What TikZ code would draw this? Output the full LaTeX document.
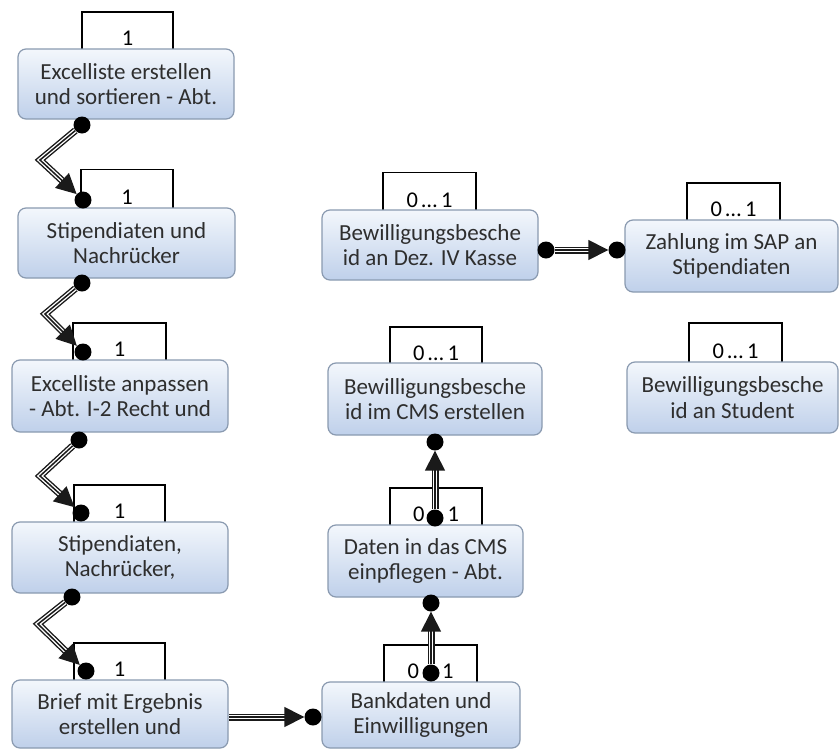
\documentclass[tikz,border=0pt]{standalone}
\usepackage{fontspec}
\setmainfont{Carlito}
\usetikzlibrary{arrows.meta}
\definecolor{boxborder}{HTML}{8A9AB0}
\definecolor{boxtop}{HTML}{F3F7FC}
\definecolor{boxbot}{HTML}{BFD0EA}
\definecolor{txt}{HTML}{2E2E2E}
\definecolor{linec}{HTML}{1A1A1A}
\tikzset{
  box/.style={rectangle, rounded corners=8pt, draw=boxborder, line width=1.2pt,
    top color=boxtop, bottom color=boxbot, align=center,
    font=\fontsize{23}{25.5}\selectfont, text=txt, inner sep=0pt},
  tabbox/.style={rectangle, draw=black, line width=1.2pt, fill=white, inner sep=0pt},
  tablabel/.style={anchor=base, font=\fontsize{22.5}{24}\selectfont, text=black, inner sep=0pt, yshift=7pt},
  dot/.style={circle, fill=black, inner sep=0pt, minimum size=17pt},
  conn/.style={
    preaction={draw=linec, line width=7pt, -, shorten >=12pt},
    preaction={draw=white, line width=4.2pt, -, shorten >=12pt},
    draw=linec, line width=1.5pt, -{Triangle[length=20pt,width=20pt]}}
}
\begin{document}
\begin{tikzpicture}[x=1pt,y=-1pt]
\useasboundingbox (0,0) rectangle (839,753);
\fill[white] (0,0) rectangle (839,753);

% tabs
\node[tabbox, minimum width=91pt, minimum height=40pt] (t1) at (127.5,32) {};
\node[tabbox, minimum width=92pt, minimum height=41pt] (t2) at (127,190) {};
\node[tabbox, minimum width=93pt, minimum height=40pt] (t3) at (119.5,343) {};
\node[tabbox, minimum width=91pt, minimum height=40pt] (t4) at (119.5,505) {};
\node[tabbox, minimum width=91pt, minimum height=40pt] (t5) at (119.5,663) {};
\node[tabbox, minimum width=93pt, minimum height=40pt] (t6) at (430.5,665) {};
\node[tabbox, minimum width=92pt, minimum height=40pt] (t7) at (436,508) {};
\node[tabbox, minimum width=92pt, minimum height=40pt] (t8) at (436,347) {};
\node[tabbox, minimum width=93pt, minimum height=41pt] (t9) at (429.5,193) {};
\node[tabbox, minimum width=93pt, minimum height=40pt] (t10) at (733.5,203) {};
\node[tabbox, minimum width=93pt, minimum height=42pt] (t11) at (735.5,344) {};

\node[tablabel] (l1) at (t1.south) {1};
\node[tablabel] (l2) at (t2.south) {1};
\node[tablabel] (l3) at (t3.south) {1};
\node[tablabel] (l4) at (t4.south) {1};
\node[tablabel] (l5) at (t5.south) {1};
\node[tablabel] (l6) at (t6.south) {0\,…\,1};
\node[tablabel] (l7) at (t7.south) {0\,…\,1};
\node[tablabel] (l8) at (t8.south) {0\,…\,1};
\node[tablabel] (l9) at (t9.south) {0\,…\,1};
\node[tablabel] (l10) at (t10.south) {0\,…\,1};
\node[tablabel] (l11) at (t11.south) {0\,…\,1};

% boxes
\node[box, minimum width=216pt, minimum height=70pt] (b1) at (126,84) {Excelliste erstellen\\und sortieren - Abt.};
\node[box, minimum width=217pt, minimum height=70pt] (b2) at (126.5,243) {Stipendiaten und\\Nachrücker};
\node[box, minimum width=216pt, minimum height=72pt] (b3) at (120,396) {Excelliste anpassen\\- Abt. I-2 Recht und};
\node[box, minimum width=216pt, minimum height=71pt] (b4) at (120,557.5) {Stipendiaten,\\Nachrücker,};
\node[box, minimum width=216pt, minimum height=68pt] (b5) at (120,714) {Brief mit Ergebnis\\erstellen und};
\node[box, minimum width=198pt, minimum height=66pt] (b6) at (421,715) {Bankdaten und\\Einwilligungen};
\node[box, minimum width=195pt, minimum height=72pt] (b7) at (425.5,561) {Daten in das CMS\\einpflegen - Abt.};
\node[box, minimum width=214pt, minimum height=72pt] (b8) at (435,399) {Bewilligungsbesche\\id im CMS erstellen};
\node[box, minimum width=216pt, minimum height=70pt] (b9) at (430,245) {Bewilligungsbesche\\id an Dez. IV Kasse};
\node[box, minimum width=213pt, minimum height=72pt] (b10) at (731.5,256) {Zahlung im SAP an\\Stipendiaten};
\node[box, minimum width=211pt, minimum height=71pt] (b11) at (732.5,397.5) {Bewilligungsbesche\\id an Student};

% dots and bends
\node[dot] (d1s) at (82,125) {};
\coordinate (k1) at (40,160);
\node[dot] (d1e) at (83,200) {};
\node[dot] (d2s) at (82,283) {};
\coordinate (k2) at (45,314);
\node[dot] (d2e) at (83,352) {};
\node[dot] (d3s) at (79,440) {};
\coordinate (k3) at (40,476);
\node[dot] (d3e) at (81,513) {};
\node[dot] (d4s) at (72,597) {};
\coordinate (k4) at (38,624);
\node[dot] (d4e) at (86,671) {};
\coordinate (c5s) at (229,717);
\node[dot] (d5e) at (313,717) {};
\node[dot] (d6s) at (431,673) {};
\node[dot] (d6e) at (431,603) {};
\node[dot] (d7s) at (435,518) {};
\node[dot] (d7e) at (435,442) {};
\node[dot] (d8s) at (546,250) {};
\node[dot] (d8e) at (617,250) {};

% connectors
\draw[conn] (d1s) -- (k1) -- (d1e);
\draw[conn] (d2s) -- (k2) -- (d2e);
\draw[conn] (d3s) -- (k3) -- (d3e);
\draw[conn] (d4s) -- (k4) -- (d4e);
\draw[conn] (c5s) -- (d5e);
\draw[conn] (d6s) -- (d6e);
\draw[conn] (d7s) -- (d7e);
\draw[conn] (d8s) -- (d8e);
\end{tikzpicture}
\end{document}
